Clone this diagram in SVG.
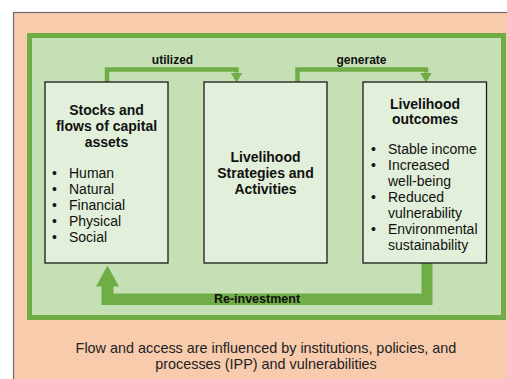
<svg xmlns="http://www.w3.org/2000/svg" width="507" height="379" viewBox="0 0 507 379">
  <style>
    .frame { fill: #f8cbad; stroke: #6b6b6b; stroke-width: 1.2; }
    .panel { fill: #c5e0b4; stroke: #70ad47; stroke-width: 5; }
    .box { fill: #e2efda; stroke: #1a1a1a; stroke-width: 1.3; }
    .title { font-family: "Liberation Sans", Arial, sans-serif; font-size: 14px; font-weight: bold; fill: #111; text-anchor: middle; }
    .item { font-family: "Liberation Sans", Arial, sans-serif; font-size: 14px; fill: #111; }
    .lbl { font-family: "Liberation Sans", Arial, sans-serif; font-size: 12px; font-weight: bold; fill: #111; text-anchor: middle; }
    .note { font-family: "Liberation Sans", Arial, sans-serif; font-size: 14.4px; fill: #222; text-anchor: middle; }
    .link { fill: none; stroke: #70ad47; stroke-width: 4.5; }
    .bigarrow { fill: #70ad47; }
  </style>
  <defs>
    <!-- arrowhead drawn along +x, base at the path end -->
    <marker id="head" markerUnits="userSpaceOnUse" markerWidth="10" markerHeight="12" refX="0" refY="6" orient="auto" viewBox="0 0 10 12">
      <path d="M0,0 L10,6 L0,12 Z" fill="#70ad47"/>
    </marker>
  </defs>

  <!-- outer context frame -->
  <rect class="frame" x="13.5" y="12.5" width="510" height="380"/>
  <!-- green system panel -->
  <rect class="panel" x="29.5" y="35.5" width="474" height="282"/>

  <!-- connectors -->
  <g id="connectors">
    <path class="link" d="M107,82 V69.5 H236.5 V72.5" marker-end="url(#head)"/>
    <path class="link" d="M297.5,82 V69.5 H426 V72.5" marker-end="url(#head)"/>
    <text class="lbl" x="172.5" y="64">utilized</text>
    <text class="lbl" x="361.5" y="64">generate</text>
    <polygon class="bigarrow" points="421.5,263 432.5,263 432.5,305 101.5,305 101.5,286.5 96,286.5 107.5,265.5 119,286.5 113.5,286.5 113.5,293.5 421.5,293.5"/>
    <text class="lbl" x="257" y="303" style="font-size:12.5px">Re-investment</text>
  </g>

  <!-- capital assets -->
  <g id="assets">
    <rect class="box" x="45" y="82" width="123" height="181"/>
    <text class="title" x="106.5" y="115">Stocks and</text>
    <text class="title" x="106.5" y="131">flows of capital</text>
    <text class="title" x="106.5" y="147">assets</text>
    <g class="item">
      <text x="52" y="178">•</text><text x="69" y="178">Human</text>
      <text x="52" y="194">•</text><text x="69" y="194">Natural</text>
      <text x="52" y="210">•</text><text x="69" y="210">Financial</text>
      <text x="52" y="226">•</text><text x="69" y="226">Physical</text>
      <text x="52" y="242">•</text><text x="69" y="242">Social</text>
    </g>
  </g>

  <!-- strategies -->
  <g id="strategies">
    <rect class="box" x="204" y="82" width="123" height="181"/>
    <text class="title" x="265.5" y="162">Livelihood</text>
    <text class="title" x="265.5" y="178">Strategies and</text>
    <text class="title" x="265.5" y="194">Activities</text>
  </g>

  <!-- outcomes -->
  <g id="outcomes">
    <rect class="box" x="363" y="82" width="123.5" height="181"/>
    <text class="title" x="425" y="109">Livelihood</text>
    <text class="title" x="425" y="124">outcomes</text>
    <g class="item">
      <text x="371" y="154">•</text><text x="388" y="154">Stable income</text>
      <text x="371" y="170">•</text><text x="388" y="170">Increased</text>
      <text x="388" y="186">well-being</text>
      <text x="371" y="202">•</text><text x="388" y="202">Reduced</text>
      <text x="388" y="218">vulnerability</text>
      <text x="371" y="234">•</text><text x="388" y="234">Environmental</text>
      <text x="388" y="250">sustainability</text>
    </g>
  </g>

  <!-- context note -->
  <g id="context">
    <text class="note" x="266" y="353">Flow and access are influenced by institutions, policies, and</text>
    <text class="note" x="266" y="369">processes (IPP) and vulnerabilities</text>
  </g>
</svg>
